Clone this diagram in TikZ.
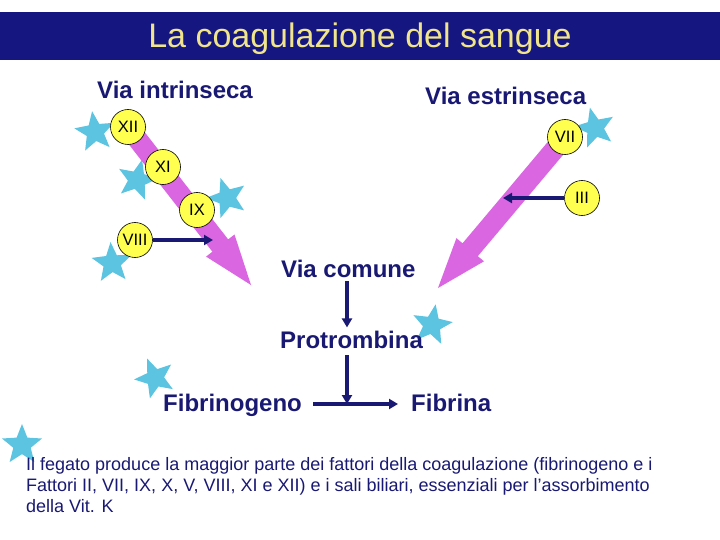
\documentclass[tikz,border=0pt]{standalone}
\usepackage{fontspec}
\setmainfont{Liberation Sans}
\usetikzlibrary{shapes.geometric,arrows.meta,calc}
\definecolor{navy}{RGB}{25,25,115}
\definecolor{barcol}{RGB}{22,22,128}
\definecolor{titlecol}{RGB}{240,228,140}
\definecolor{pinkarrow}{RGB}{218,102,226}
\definecolor{starblue}{RGB}{92,196,224}
\definecolor{factcol}{RGB}{255,255,80}
\begin{document}
\begin{tikzpicture}[x=1pt,y=-1pt,
  lbl/.style={font=\bfseries\fontsize{24}{28}\selectfont, text=navy, inner sep=0pt, anchor=base west},
  factor/.style={circle, draw=black, line width=0.6pt, fill=factcol, minimum size=35pt, inner sep=0pt, font=\fontsize{16.5}{19}\selectfont},
  starry/.style={star, star points=5, star point ratio=2.3, fill=starblue, minimum size=42pt, inner sep=0pt},
  conn/.style={draw=navy, line width=3.5pt, -{Triangle[length=9pt,width=10pt]}}]
\useasboundingbox (0,0) rectangle (720,540);
\fill[barcol] (0,12) rectangle (720,60);
\node[font=\fontsize{34}{40}\selectfont, text=titlecol, anchor=base, inner sep=0pt] (title) at (360,48) {La coagulazione del sangue};

% stars
\node[starry, rotate=8] (s1) at (95,132) {};
\node[starry, rotate=-14] (s2) at (137,180) {};
\node[starry, rotate=18] (s3) at (227,198) {};
\node[starry, rotate=4] (s4) at (112,263) {};
\node[starry, rotate=14] (s5) at (595,128) {};
\node[starry, rotate=-10] (s6) at (432,325) {};
\node[starry, rotate=22] (s7) at (155,378) {};
\node[starry, rotate=0] (s8) at (22,445) {};

% factor positions
\coordinate (pxii) at (128,127);
\coordinate (pvii) at (565,137);
\coordinate (tipL) at (251,285);
\coordinate (tipR) at (438,288);
\coordinate (baseL) at ($(tipL)!50pt!(pxii)$);
\coordinate (baseR) at ($(tipR)!50pt!(pvii)$);

% big pink arrows
\fill[pinkarrow] ($(pxii)!10pt!90:(tipL)$) -- ($(baseL)!10pt!90:(tipL)$) -- ($(baseL)!18pt!90:(tipL)$) -- (tipL)
  -- ($(baseL)!18pt!-90:(tipL)$) -- ($(baseL)!10pt!-90:(tipL)$) -- ($(pxii)!10pt!-90:(tipL)$) -- cycle;
\fill[pinkarrow] ($(pvii)!10pt!90:(tipR)$) -- ($(baseR)!10pt!90:(tipR)$) -- ($(baseR)!18pt!90:(tipR)$) -- (tipR)
  -- ($(baseR)!18pt!-90:(tipR)$) -- ($(baseR)!10pt!-90:(tipR)$) -- ($(pvii)!10pt!-90:(tipR)$) -- cycle;

% factors
\node[factor] (xii) at (pxii) {XII};
\node[factor] (xi) at (163,167) {XI};
\node[factor] (ix) at (197,210) {IX};
\node[factor] (viii) at (135,240) {VIII};
\node[factor] (vii) at (pvii) {VII};
\node[factor] (iii) at (582,198) {III};

\coordinate (hitL) at (213,240);
\coordinate (hitR) at (503,198);
\draw[conn] (viii.east) -- (hitL);
\draw[conn] (iii.west) -- (hitR);

% labels
\node[lbl] (vi) at (97,99) {Via intrinseca};
\node[lbl] (ve) at (425,105) {Via estrinseca};
\node[lbl] (vc) at (281,277) {Via comune};
\node[lbl] (pro) at (280,348) {Protrombina};
\node[lbl] (fibg) at (163,411) {Fibrinogeno};
\node[lbl] (fibr) at (411,411) {Fibrina};

\coordinate (j) at (347,404);
\draw[conn, shorten <=4pt, shorten >=3pt] (vc.south -| j) -- (pro.north -| j);
\draw[conn, shorten <=7pt] (pro.south -| j) -- (j);
\draw[conn, shorten <=11pt, shorten >=13pt] (fibg.east |- j) -- (fibr.west |- j);

% bottom text
\node[anchor=north west, inner sep=0pt, align=left, text=navy, font=\fontsize{18}{21}\selectfont] (note) at (26,457)
 {Il fegato produce la maggior parte dei fattori della coagulazione (fibrinogeno e i\\
  Fattori II, VII, IX, X, V, VIII, XI e XII) e i sali biliari, essenziali per l’assorbimento\\
  della Vit. K};
\end{tikzpicture}
\end{document}
